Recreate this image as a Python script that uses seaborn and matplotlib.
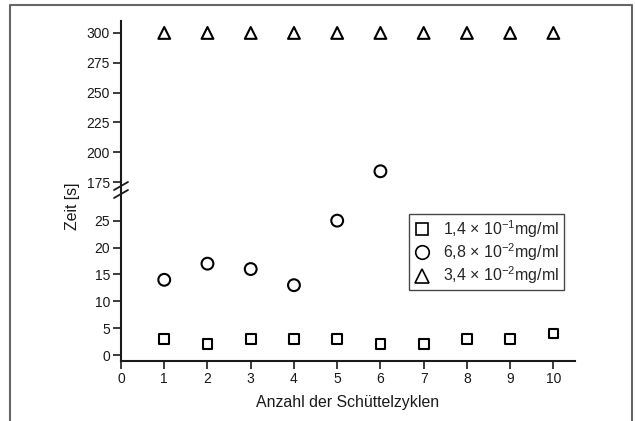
import matplotlib
matplotlib.use("Agg")
import matplotlib.pyplot as plt
import seaborn as sns
import pandas as pd
from matplotlib.lines import Line2D

sns.set_theme(style="white")
plt.rcParams['font.family'] = ['Liberation Sans', 'DejaVu Sans']
plt.rcParams['mathtext.fontset'] = 'custom'
plt.rcParams['mathtext.rm'] = 'Liberation Sans'
plt.rcParams['mathtext.it'] = 'Liberation Sans:italic'
plt.rcParams['mathtext.bf'] = 'Liberation Sans:bold'

cycles = [1, 2, 3, 4, 5, 6, 7, 8, 9, 10]
sq_vals = [3, 2, 3, 3, 3, 2, 2, 3, 3, 4]
ci_cycles = [1, 2, 3, 4, 5, 6]
ci_vals = [14, 17, 16, 13, 25, 184]
tr_vals = [300, 300, 300, 300, 300, 300, 300, 300, 300, 300]
labels = [r"1,4 $\times$ 10$^{-1}$mg/ml",
          r"6,8 $\times$ 10$^{-2}$mg/ml",
          r"3,4 $\times$ 10$^{-2}$mg/ml"]
lower_ticks = [0, 5, 10, 15, 20, 25]
upper_ticks = [175, 200, 225, 250, 275, 300]
x_ticks = [0, 1, 2, 3, 4, 5, 6, 7, 8, 9, 10]

df = pd.concat([
    pd.DataFrame({"x": cycles, "y": sq_vals, "s": "sq"}),
    pd.DataFrame({"x": ci_cycles, "y": ci_vals, "s": "ci"}),
    pd.DataFrame({"x": cycles, "y": tr_vals, "s": "tr"}),
], ignore_index=True)

W, H = 635, 421
fig = plt.figure(figsize=(W / 100, H / 100), dpi=100)

def fx(px):
    return px / W

def fy(py):
    return 1 - py / H

left, right = 121, 575
brk = 190
ax_up = fig.add_axes([fx(left), fy(brk), fx(right - left), fy(21) - fy(brk)])
ax_lo = fig.add_axes([fx(left), fy(361), fx(right - left), fy(brk) - fy(361)])

ink = "#1a1a1a"
markers = {"sq": "s", "ci": "o", "tr": "^"}
sizes = {"sq": 7, "ci": 8.5, "tr": 8.5}
for ax in (ax_up, ax_lo):
    for key in ["sq", "ci", "tr"]:
        sub = df[df.s == key]
        sns.scatterplot(data=sub, x="x", y="y", ax=ax, marker=markers[key],
                        s=sizes[key] ** 2, facecolor="none", edgecolor="black",
                        linewidth=1.5, legend=False, clip_on=True)
    ax.set_xlim(0, 10.5)
    ax.set_xlabel("")
    ax.set_ylabel("")
    for sp in ["top", "right"]:
        ax.spines[sp].set_visible(False)
    ax.spines["left"].set_linewidth(1.5)
    ax.spines["left"].set_color(ink)
    ax.tick_params(direction="out", length=6, width=1.2, color=ink,
                   labelsize=10, labelcolor=ink, pad=2,
                   left=True, bottom=True)

ax_up.set_ylim(168.3, 310)
ax_up.set_yticks(upper_ticks)
ax_up.spines["bottom"].set_visible(False)
ax_up.tick_params(axis="x", bottom=False, labelbottom=False)

ax_lo.set_ylim(-1.1, 30.7)
ax_lo.set_yticks(lower_ticks)
ax_lo.set_xticks(x_ticks)
ax_lo.spines["bottom"].set_linewidth(1.5)
ax_lo.spines["bottom"].set_color(ink)

# break marks on the y axis
for dy in (-4, 4):
    fig.add_artist(Line2D([fx(left - 7), fx(left + 7)],
                          [fy(brk + dy + 4), fy(brk + dy - 4)],
                          color=ink, lw=1.3))

fig.text(fx(348), fy(402), "Anzahl der Schüttelzyklen", ha="center", va="center",
         fontsize=11.4, color=ink)
fig.text(fx(73), fy(206), "Zeit [s]", ha="center", va="center", rotation=90,
         fontsize=11.4, color=ink)

handles = [Line2D([], [], marker=markers[k], ls="none", markersize=sizes[k] * 1.15,
                  markerfacecolor="none", markeredgecolor="black", markeredgewidth=1.2)
           for k in ["sq", "ci", "tr"]]
leg = ax_lo.legend(handles, labels, loc="upper left",
                   bbox_to_anchor=((409 - left) / (right - left), 1 - (214 - brk) / (361 - brk)),
                   frameon=True, fancybox=False, fontsize=11.5, handletextpad=0.8,
                   borderpad=0.25, labelspacing=0.1, handlelength=1.1, borderaxespad=0)
leg.get_frame().set_edgecolor(ink)
leg.get_frame().set_linewidth(1.0)

# outer frame (left, top, right)
fig.add_artist(Line2D([fx(10), fx(10), fx(632), fx(632)],
                      [fy(421), fy(5), fy(5), fy(421)], color="#666666", lw=1.5))

fig.savefig("out.png", dpi=100)
